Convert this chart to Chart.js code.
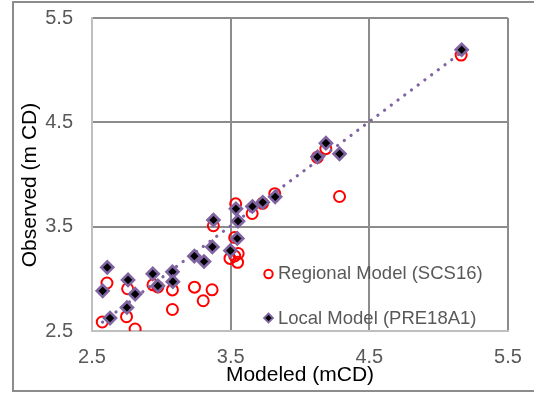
<!DOCTYPE html>
<html>
<head>
<meta charset="utf-8">
<script src="https://cdn.jsdelivr.net/npm/chart.js@4.4.1/dist/chart.umd.min.js"></script>
<style>
  html, body { margin: 0; padding: 0; background: #ffffff; }
  #wrap { width: 534px; height: 394px; }
</style>
</head>
<body>
<div id="wrap"><canvas id="fitChart" width="534" height="394"></canvas></div>
<script>
// Modeled vs observed values (mCD) for the two models
const regionalModeled = [2.574, 2.608, 2.757, 2.749, 2.811, 2.940, 2.975, 3.080, 3.080, 3.239, 3.302,
  3.366, 3.375, 3.495, 3.529, 3.554, 3.550, 3.529, 3.536, 3.655, 3.730, 3.818, 4.125, 4.186, 4.285, 5.162];
const regionalObserved = [2.586, 2.960, 2.905, 2.637, 2.519, 2.943, 2.922, 2.894, 2.706, 2.920, 2.790,
  2.895, 3.509, 3.196, 3.219, 3.243, 3.158, 3.396, 3.719, 3.626, 3.724, 3.816, 4.165, 4.248, 3.789, 5.145];

const localModeled = [2.577, 2.610, 2.630, 2.760, 2.752, 2.811, 2.938, 2.975, 3.080, 3.083, 3.238, 3.308,
  3.368, 3.376, 3.498, 3.538, 3.553, 3.548, 3.657, 3.731, 3.821, 4.126, 4.187, 4.285, 5.166];
const localObserved = [2.885, 3.110, 2.624, 2.990, 2.725, 2.854, 3.048, 2.933, 3.067, 2.973, 3.217, 3.166,
  3.306, 3.564, 3.271, 3.672, 3.553, 3.387, 3.693, 3.733, 3.786, 4.169, 4.300, 4.198, 5.196];

// dotted fit line end points
const fitX = [2.576, 5.166];
const fitY = [2.585, 5.172];

const axisTicks = [2.5, 3.5, 4.5, 5.5];

const seriesNames = ["Regional Model (SCS16)", "Local Model (PRE18A1)"];
const xTitle = "Modeled (mCD)";
const yTitle = "Observed (m CD)";

const RED = "#ff0000";
const PURPLE = "#8064a2";
const FONT = "'Liberation Sans', Arial, sans-serif";

const toPoints = (xs, ys) => xs.map((x, i) => ({ x, y: ys[i] }));

// outer frame + rotated y title + legend inside the plot
const extras = {
  id: "extras",
  beforeDraw(chart) {
    const ctx = chart.ctx;
    ctx.save();
    ctx.fillStyle = "#ffffff";
    ctx.fillRect(0, 0, chart.width, chart.height);
    ctx.strokeStyle = "#8c8c8c";
    ctx.lineWidth = 2;
    ctx.strokeRect(13, 2, 560, 389);
    ctx.restore();
  },
  afterDraw(chart) {
    const ctx = chart.ctx;
    ctx.save();
    // y axis title
    ctx.translate(30, 185);
    ctx.rotate(-Math.PI / 2);
    ctx.font = "21px " + FONT;
    ctx.fillStyle = "#000000";
    ctx.textAlign = "center";
    ctx.textBaseline = "middle";
    ctx.fillText(yTitle, 0, 0);
    ctx.restore();

    // legend
    ctx.save();
    ctx.font = "18.5px " + FONT;
    ctx.fillStyle = "#595959";
    ctx.textAlign = "left";
    ctx.textBaseline = "middle";
    ctx.fillText(seriesNames[0], 278, 274);
    ctx.fillText(seriesNames[1], 278, 319);

    ctx.beginPath();
    ctx.arc(268.5, 274, 4.2, 0, Math.PI * 2);
    ctx.strokeStyle = RED;
    ctx.lineWidth = 2;
    ctx.stroke();

    ctx.beginPath();
    ctx.moveTo(268.5, 313.5);
    ctx.lineTo(273, 318);
    ctx.lineTo(268.5, 322.5);
    ctx.lineTo(264, 318);
    ctx.closePath();
    ctx.fillStyle = "#000000";
    ctx.fill();
    ctx.strokeStyle = PURPLE;
    ctx.lineWidth = 1.8;
    ctx.stroke();
    ctx.restore();
  }
};

new Chart(document.getElementById("fitChart"), {
  type: "scatter",
  data: {
    datasets: [
      {
        label: seriesNames[1],
        data: toPoints(localModeled, localObserved),
        pointStyle: "rectRot",
        pointRadius: 6,
        pointBackgroundColor: "#000000",
        pointBorderColor: PURPLE,
        pointBorderWidth: 2.6,
        order: 0
      },
      {
        label: "fit",
        type: "line",
        data: toPoints(fitX, fitY),
        showLine: true,
        borderColor: PURPLE,
        borderWidth: 3.2,
        borderDash: [0.1, 8.3],
        borderCapStyle: "round",
        pointRadius: 0,
        fill: false,
        order: 1
      },
      {
        label: seriesNames[0],
        data: toPoints(regionalModeled, regionalObserved),
        pointStyle: "circle",
        pointRadius: 5.5,
        pointBackgroundColor: "rgba(0,0,0,0)",
        pointBorderColor: RED,
        pointBorderWidth: 2,
        order: 2
      }
    ]
  },
  options: {
    responsive: false,
    animation: false,
    devicePixelRatio: 1,
    layout: { padding: { left: 0, top: 18, right: 26, bottom: 0 } },
    plugins: {
      legend: { display: false },
      tooltip: { enabled: false }
    },
    scales: {
      x: {
        type: "linear",
        min: axisTicks[0],
        max: axisTicks[axisTicks.length - 1],
        afterBuildTicks: (scale) => { scale.ticks = axisTicks.map(v => ({ value: v })); },
        afterFit: (scale) => {
          scale.height = 63;
          scale.paddingLeft = 0;
          scale.paddingRight = 0;
        },
        ticks: {
          padding: 14,
          color: "#595959",
          font: { family: FONT, size: 20 },
          callback: (v) => v.toFixed(1)
        },
        grid: { color: "#8c8c8c", lineWidth: 2, drawTicks: false },
        border: { color: "#bfbfbf", width: 2 },
        title: {
          display: true,
          text: xTitle,
          color: "#000000",
          font: { family: FONT, size: 21 },
          padding: { top: 0, bottom: 6 }
        }
      },
      y: {
        type: "linear",
        min: axisTicks[0],
        max: axisTicks[axisTicks.length - 1],
        afterBuildTicks: (scale) => { scale.ticks = axisTicks.map(v => ({ value: v })); },
        afterFit: (scale) => {
          scale.width = 92;
          scale.paddingTop = 0;
          scale.paddingBottom = 0;
        },
        ticks: {
          padding: 19,
          color: "#595959",
          font: { family: FONT, size: 20 },
          callback: (v) => v.toFixed(1)
        },
        grid: { color: "#8c8c8c", lineWidth: 2, drawTicks: false },
        border: { color: "#bfbfbf", width: 2 }
      }
    }
  },
  plugins: [extras]
});
</script>
</body>
</html>
